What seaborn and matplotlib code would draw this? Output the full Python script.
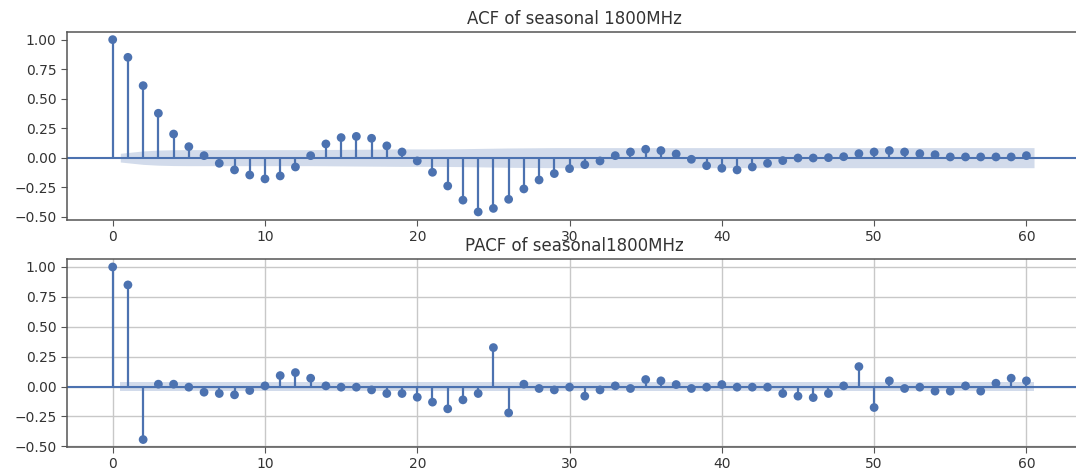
import matplotlib
matplotlib.use("Agg")
import matplotlib.pyplot as plt
import numpy as np
import pandas as pd
import seaborn as sns

# ---------------- data ----------------
lags = list(range(61))

acf_values = [1.0, 0.85, 0.61, 0.376, 0.20, 0.093, 0.017, -0.048, -0.104, -0.147,
              -0.18, -0.155, -0.079, 0.017, 0.116, 0.17, 0.18, 0.164, 0.10, 0.048,
              -0.028, -0.124, -0.24, -0.36, -0.46, -0.43, -0.353, -0.265, -0.189, -0.135,
              -0.093, -0.059, -0.028, 0.017, 0.048, 0.071, 0.06, 0.031, -0.014, -0.068,
              -0.09, -0.104, -0.079, -0.048, -0.025, -0.003, -0.003, 0.0, 0.008, 0.034,
              0.048, 0.06, 0.048, 0.034, 0.025, 0.006, 0.006, 0.006, 0.006, 0.006,
              0.017]

# half-width of ACF confidence band for lags 1..60
acf_band = [0.037, 0.057, 0.064, 0.067, 0.068, 0.068, 0.068, 0.068, 0.068, 0.068,
            0.068, 0.068, 0.068, 0.069, 0.070, 0.071, 0.072, 0.073, 0.074, 0.074,
            0.074, 0.075, 0.076, 0.078, 0.080, 0.082, 0.083, 0.084, 0.085, 0.085,
            0.085, 0.085, 0.085, 0.085, 0.085, 0.085, 0.085, 0.085, 0.085, 0.085,
            0.085, 0.085, 0.085, 0.085, 0.085, 0.085, 0.085, 0.085, 0.085, 0.085,
            0.085, 0.085, 0.085, 0.085, 0.085, 0.085, 0.085, 0.085, 0.085, 0.085]

pacf_values = [1.0, 0.85, -0.443, 0.02, 0.02, -0.005, -0.047, -0.058, -0.069, -0.033,
               0.006, 0.092, 0.117, 0.07, 0.006, -0.005, -0.005, -0.028, -0.058, -0.058,
               -0.089, -0.13, -0.186, -0.111, -0.058, 0.326, -0.22, 0.02, -0.016, -0.028,
               -0.005, -0.08, -0.028, 0.006, -0.016, 0.059, 0.048, 0.017, -0.016, -0.005,
               0.017, -0.005, -0.005, -0.005, -0.058, -0.08, -0.092, -0.058, 0.006, 0.167,
               -0.175, 0.048, -0.016, -0.005, -0.038, -0.038, 0.006, -0.038, 0.028, 0.07,
               0.048]

# half-width of PACF confidence band for lags 1..60
pacf_band = [0.036] * 60

titles = ["ACF of seasonal 1800MHz", "PACF of seasonal1800MHz"]
yticks = [-0.50, -0.25, 0.00, 0.25, 0.50, 0.75, 1.00]
xticks = [0, 10, 20, 30, 40, 50, 60]

COLOR = "#4c72b0"

# ---------------- style ----------------
sns.set_style("ticks")
plt.rcParams["font.family"] = ["DejaVu Sans"]
plt.rcParams.update({
    "axes.edgecolor": "#555555",
    "axes.linewidth": 1.1,
    "xtick.color": "#555555",
    "ytick.color": "#555555",
    "xtick.labelcolor": "#333333",
    "ytick.labelcolor": "#333333",
    "xtick.labelsize": 10,
    "ytick.labelsize": 10,
    "xtick.major.size": 4,
    "ytick.major.size": 4,
    "axes.titlesize": 12,
    "axes.titlecolor": "#333333",
})

fig = plt.figure(figsize=(10.76, 4.70), dpi=100)
left = 67 / 1076
width = 1015 / 1076
ax1 = fig.add_axes([left, 0.532, width, 0.400])
ax2 = fig.add_axes([left, 0.049, width, 0.400])


def draw_corr(ax, values, band, title, ylim, grid):
    if grid:
        ax.grid(True, color="#c8c8c8", linewidth=1.0, zorder=0)
        ax.set_axisbelow(True)
    df = pd.DataFrame({"lag": lags, "value": values})
    band_lags = np.array(lags[1:], dtype=float)
    band_lags[0] -= 0.5
    band_lags[-1] += 0.5
    band = np.array(band)
    ax.fill_between(band_lags, -band, band, color=COLOR, alpha=0.25, linewidth=0, zorder=1)
    ax.axhline(0, color=COLOR, linewidth=1.5, zorder=2)
    ax.vlines(df["lag"], 0, df["value"], color=COLOR, linewidth=1.6, zorder=2)
    sns.scatterplot(data=df, x="lag", y="value", ax=ax, color=COLOR, s=40,
                    edgecolor="none", linewidth=0, zorder=3, legend=False)
    ax.set_xlim(-3, 63.65)
    ax.set_ylim(*ylim)
    ax.set_xticks(xticks)
    ax.set_yticks(yticks)
    ax.set_yticklabels([f"{v:.2f}".replace("-", "\u2212") for v in yticks])
    ax.set_xlabel("")
    ax.set_ylabel("")
    ax.set_title(title)


draw_corr(ax1, acf_values, acf_band, titles[0], (-0.528, 1.065), grid=False)
draw_corr(ax2, pacf_values, pacf_band, titles[1], (-0.505, 1.067), grid=True)

fig.savefig("out.png", dpi=100)
